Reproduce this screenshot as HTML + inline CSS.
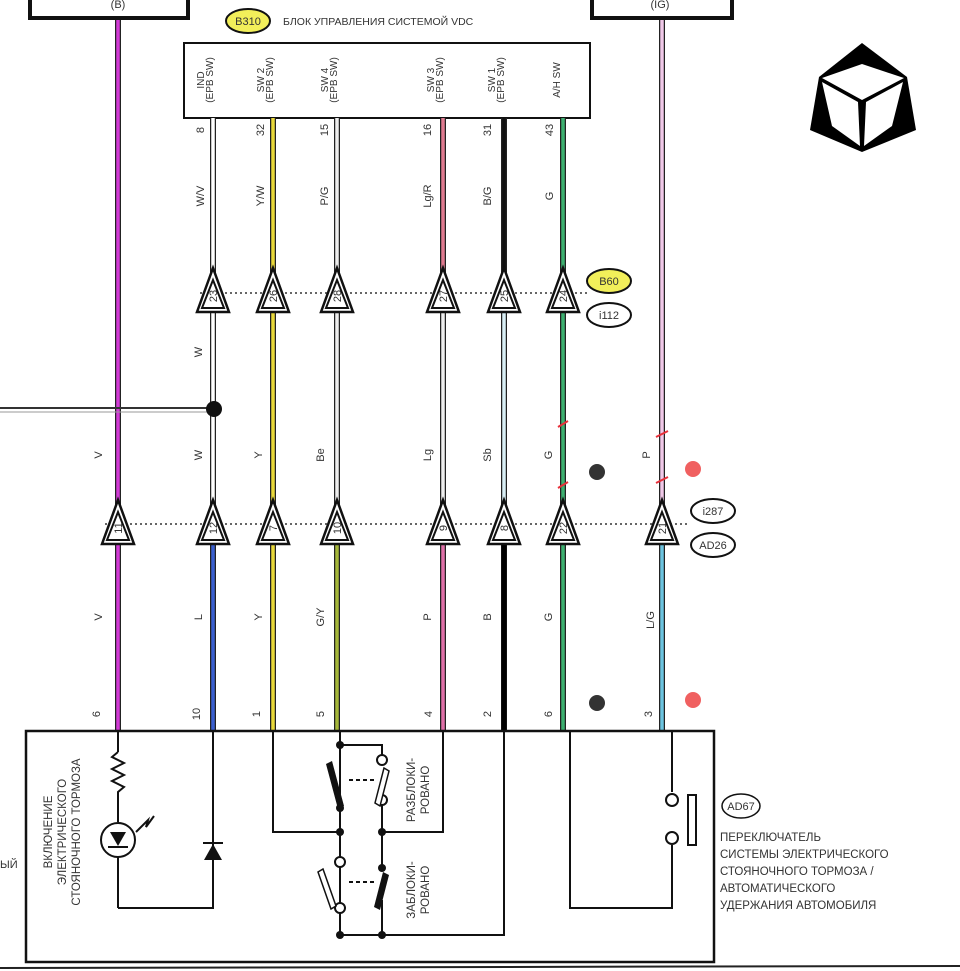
<!DOCTYPE html>
<html><head><meta charset="utf-8"><style>
html,body{margin:0;padding:0;background:#fff}
svg{display:block}
text{font-family:"Liberation Sans",sans-serif;fill:#333}
</style></head><body>
<svg width="960" height="971" viewBox="0 0 960 971" xmlns="http://www.w3.org/2000/svg">
<defs>
<g id="tri">
<polygon points="0,-26 -16,18 16,18" fill="#fff" stroke="#111" stroke-width="2.5"/>
<polygon points="0,-14 -11,14 11,14" fill="#fff" stroke="#111" stroke-width="2"/>
</g>
</defs>
<!-- top boxes -->
<rect x="30" y="-4" width="158" height="22" fill="none" stroke="#111" stroke-width="4"/>
<text x="118" y="8" font-size="11" text-anchor="middle">(B)</text>
<rect x="592" y="-4" width="140" height="22" fill="none" stroke="#111" stroke-width="4"/>
<text x="660" y="8" font-size="11" text-anchor="middle">(IG)</text>
<ellipse cx="248" cy="21" rx="22" ry="12" fill="#f2ef5a" stroke="#111" stroke-width="2"/>
<text x="248" y="25" font-size="11" text-anchor="middle">B310</text>
<text x="283" y="25" font-size="10.5">БЛОК УПРАВЛЕНИЯ СИСТЕМОЙ VDC</text>
<rect x="184" y="43" width="406" height="75" fill="#fff" stroke="#111" stroke-width="2"/>

<!-- wires -->
<g stroke-linecap="butt">
<!-- outlines -->
<g stroke="#222" stroke-width="6">
<line x1="118" y1="20" x2="118" y2="730"/>
<line x1="213" y1="118" x2="213" y2="730"/>
<line x1="273" y1="118" x2="273" y2="730"/>
<line x1="337" y1="118" x2="337" y2="730"/>
<line x1="443" y1="118" x2="443" y2="730"/>
<line x1="504" y1="118" x2="504" y2="730"/>
<line x1="563" y1="118" x2="563" y2="730"/>
<line x1="662" y1="20" x2="662" y2="730"/>
</g>
<g stroke-width="3.5">
<line x1="118" y1="20" x2="118" y2="730" stroke="#d23ad6"/>
<line x1="213" y1="118" x2="213" y2="525" stroke="#fff"/>
<line x1="213" y1="525" x2="213" y2="730" stroke="#3a5fd0"/>
<line x1="273" y1="118" x2="273" y2="730" stroke="#e8d83a"/>
<line x1="337" y1="118" x2="337" y2="525" stroke="#eee"/>
<line x1="337" y1="525" x2="337" y2="730" stroke="#a6b83a"/>
<line x1="443" y1="118" x2="443" y2="293" stroke="#e07a90"/>
<line x1="443" y1="293" x2="443" y2="525" stroke="#eee"/>
<line x1="443" y1="525" x2="443" y2="730" stroke="#e070a8"/>
<line x1="504" y1="118" x2="504" y2="293" stroke="#111"/>
<line x1="504" y1="293" x2="504" y2="525" stroke="#d8eef5"/>
<line x1="504" y1="525" x2="504" y2="730" stroke="#000" stroke-width="5"/>
<line x1="563" y1="118" x2="563" y2="730" stroke="#3cb070"/>
<line x1="662" y1="20" x2="662" y2="525" stroke="#f0c8e8"/>
<line x1="662" y1="525" x2="662" y2="730" stroke="#6cc4e0"/>
</g>
</g>
<line x1="0" y1="408" x2="213" y2="408" stroke="#333" stroke-width="2"/>
<line x1="0" y1="412" x2="213" y2="412" stroke="#999" stroke-width="1"/>
<circle cx="214" cy="409" r="8" fill="#111"/>

<!-- rotated labels -->
<g font-size="10" text-anchor="middle">
<g transform="translate(204,80) rotate(-90)"><text>IND</text><text y="9">(EPB SW)</text></g>
<g transform="translate(264,80) rotate(-90)"><text>SW 2</text><text y="9">(EPB SW)</text></g>
<g transform="translate(328,80) rotate(-90)"><text>SW 4</text><text y="9">(EPB SW)</text></g>
<g transform="translate(434,80) rotate(-90)"><text>SW 3</text><text y="9">(EPB SW)</text></g>
<g transform="translate(495,80) rotate(-90)"><text>SW 1</text><text y="9">(EPB SW)</text></g>
<g transform="translate(560,80) rotate(-90)"><text>A/H SW</text></g>
</g>
<g font-size="11" text-anchor="middle">
<text transform="translate(204,130) rotate(-90)">8</text>
<text transform="translate(264,130) rotate(-90)">32</text>
<text transform="translate(328,130) rotate(-90)">15</text>
<text transform="translate(431,130) rotate(-90)">16</text>
<text transform="translate(491,130) rotate(-90)">31</text>
<text transform="translate(553,130) rotate(-90)">43</text>
<text transform="translate(204,196) rotate(-90)">W/V</text>
<text transform="translate(264,196) rotate(-90)">Y/W</text>
<text transform="translate(328,196) rotate(-90)">P/G</text>
<text transform="translate(431,196) rotate(-90)">Lg/R</text>
<text transform="translate(491,196) rotate(-90)">B/G</text>
<text transform="translate(553,196) rotate(-90)">G</text>
<text transform="translate(202,352) rotate(-90)">W</text>
<text transform="translate(102,455) rotate(-90)">V</text>
<text transform="translate(202,455) rotate(-90)">W</text>
<text transform="translate(262,455) rotate(-90)">Y</text>
<text transform="translate(324,455) rotate(-90)">Be</text>
<text transform="translate(431,455) rotate(-90)">Lg</text>
<text transform="translate(491,455) rotate(-90)">Sb</text>
<text transform="translate(552,455) rotate(-90)">G</text>
<text transform="translate(650,455) rotate(-90)">P</text>
<text transform="translate(102,617) rotate(-90)">V</text>
<text transform="translate(202,617) rotate(-90)">L</text>
<text transform="translate(262,617) rotate(-90)">Y</text>
<text transform="translate(324,617) rotate(-90)">G/Y</text>
<text transform="translate(431,617) rotate(-90)">P</text>
<text transform="translate(491,617) rotate(-90)">B</text>
<text transform="translate(552,617) rotate(-90)">G</text>
<text transform="translate(654,620) rotate(-90)">L/G</text>
<text transform="translate(100,714) rotate(-90)">6</text>
<text transform="translate(200,714) rotate(-90)">10</text>
<text transform="translate(260,714) rotate(-90)">1</text>
<text transform="translate(324,714) rotate(-90)">5</text>
<text transform="translate(432,714) rotate(-90)">4</text>
<text transform="translate(491,714) rotate(-90)">2</text>
<text transform="translate(552,714) rotate(-90)">6</text>
<text transform="translate(652,714) rotate(-90)">3</text>
</g>

<!-- connector row 1 -->
<line x1="200" y1="293" x2="590" y2="293" stroke="#333" stroke-width="1.5" stroke-dasharray="2,3"/>
<g font-size="11" text-anchor="middle">
<use href="#tri" x="213" y="294"/><text transform="translate(217,296) rotate(-90)">23</text>
<use href="#tri" x="273" y="294"/><text transform="translate(277,296) rotate(-90)">26</text>
<use href="#tri" x="337" y="294"/><text transform="translate(341,296) rotate(-90)">28</text>
<use href="#tri" x="443" y="294"/><text transform="translate(447,296) rotate(-90)">27</text>
<use href="#tri" x="504" y="294"/><text transform="translate(508,296) rotate(-90)">25</text>
<use href="#tri" x="563" y="294"/><text transform="translate(567,296) rotate(-90)">24</text>
</g>
<ellipse cx="609" cy="281" rx="22" ry="12" fill="#f2ef5a" stroke="#111" stroke-width="2"/>
<text x="609" y="285" font-size="11" text-anchor="middle">B60</text>
<ellipse cx="609" cy="315" rx="22" ry="12" fill="#fff" stroke="#111" stroke-width="2"/>
<text x="609" y="319" font-size="11" text-anchor="middle">i112</text>

<!-- connector row 2 -->
<line x1="105" y1="524" x2="690" y2="524" stroke="#333" stroke-width="1.5" stroke-dasharray="2,3"/>
<g font-size="11" text-anchor="middle">
<use href="#tri" x="118" y="526"/><text transform="translate(122,528) rotate(-90)">11</text>
<use href="#tri" x="213" y="526"/><text transform="translate(217,528) rotate(-90)">12</text>
<use href="#tri" x="273" y="526"/><text transform="translate(277,528) rotate(-90)">7</text>
<use href="#tri" x="337" y="526"/><text transform="translate(341,528) rotate(-90)">10</text>
<use href="#tri" x="443" y="526"/><text transform="translate(447,528) rotate(-90)">9</text>
<use href="#tri" x="504" y="526"/><text transform="translate(508,528) rotate(-90)">8</text>
<use href="#tri" x="563" y="526"/><text transform="translate(567,528) rotate(-90)">22</text>
<use href="#tri" x="662" y="526"/><text transform="translate(666,528) rotate(-90)">21</text>
</g>
<ellipse cx="713" cy="511" rx="22" ry="12" fill="#fff" stroke="#111" stroke-width="2"/>
<text x="713" y="515" font-size="11" text-anchor="middle">i287</text>
<ellipse cx="713" cy="545" rx="22" ry="12" fill="#fff" stroke="#111" stroke-width="2"/>
<text x="713" y="549" font-size="11" text-anchor="middle">AD26</text>

<!-- red ticks and dots -->
<g stroke="#e8303a" stroke-width="2">
<line x1="558" y1="427" x2="568" y2="421"/><line x1="558" y1="488" x2="568" y2="482"/>
<line x1="656" y1="437" x2="668" y2="431"/><line x1="656" y1="483" x2="668" y2="477"/>
</g>
<circle cx="597" cy="472" r="8" fill="#333"/>
<circle cx="693" cy="469" r="8" fill="#f06060"/>
<circle cx="597" cy="703" r="8" fill="#333"/>
<circle cx="693" cy="700" r="8" fill="#f06060"/>

<!-- bottom box -->
<rect x="26" y="731" width="688" height="231" fill="#fff" stroke="#111" stroke-width="2.5"/>
<line x1="0" y1="968" x2="960" y2="966" stroke="#222" stroke-width="2"/>
<g stroke="#111" stroke-width="2" fill="none">
<!-- pin 6 lamp -->
<line x1="118" y1="731" x2="118" y2="752"/>
<polyline points="118,752 112,757 124,763 112,769 124,775 112,781 124,787 118,792 118,822"/>
<circle cx="118" cy="840" r="17"/>
<line x1="118" y1="857" x2="118" y2="908"/>
<polyline points="118,908 213,908 213,731"/>
<!-- pin 1 / switch -->
<polyline points="273,731 273,832 340,832"/>
<line x1="340" y1="731" x2="340" y2="935"/>
<polyline points="340,745 382,745 382,755"/>
<polyline points="443,731 443,832 382,832"/>
<line x1="382" y1="805" x2="382" y2="865"/>
<line x1="382" y1="900" x2="382" y2="935"/>
<polyline points="340,935 504,935 504,731"/>
<line x1="349" y1="780" x2="374" y2="780" stroke-dasharray="4,3"/>
<line x1="349" y1="882" x2="374" y2="882" stroke-dasharray="4,3"/>
<!-- pin 6 right -->
<polyline points="570,731 570,908 672,908 672,845"/>
<line x1="672" y1="731" x2="672" y2="792"/>
<circle cx="672" cy="800" r="6" fill="#fff"/>
<circle cx="672" cy="838" r="6" fill="#fff"/>
<rect x="688" y="795" width="8" height="50"/>
</g>
<!-- LED internals -->
<polygon points="110,832 126,832 118,846" fill="#111"/>
<line x1="108" y1="847" x2="128" y2="847" stroke="#111" stroke-width="2"/>
<polyline points="136,832 148,820 146,827 154,816" fill="none" stroke="#111" stroke-width="2"/>
<!-- diode -->
<polygon points="204,860 222,860 213,844" fill="#111"/>
<line x1="203" y1="843" x2="223" y2="843" stroke="#111" stroke-width="2"/>
<!-- switch contacts -->
<g fill="#111">
<circle cx="340" cy="745" r="4"/><circle cx="340" cy="832" r="4"/><circle cx="382" cy="832" r="4"/><circle cx="340" cy="935" r="4"/><circle cx="382" cy="935" r="4"/>
<circle cx="340" cy="808" r="4"/><circle cx="382" cy="868" r="4"/>
</g>
<g fill="#fff" stroke="#111" stroke-width="2">
<circle cx="382" cy="760" r="5"/><circle cx="382" cy="800" r="5"/>
<circle cx="340" cy="862" r="5"/><circle cx="340" cy="908" r="5"/>
</g>
<polygon points="326,764 332,761 344,806 338,809" fill="#111"/>
<polygon points="384,768 389,771 380,806 375,803" fill="#fff" stroke="#111" stroke-width="1.5"/>
<polygon points="318,872 323,869 336,906 331,909" fill="#fff" stroke="#111" stroke-width="1.5"/>
<polygon points="383,872 389,875 380,910 374,907" fill="#111"/>

<!-- box texts -->
<g font-size="11.5" text-anchor="middle" fill="#222">
<text transform="translate(52,832) rotate(-90)">ВКЛЮЧЕНИЕ</text>
<text transform="translate(66,832) rotate(-90)">ЭЛЕКТРИЧЕСКОГО</text>
<text transform="translate(80,832) rotate(-90)">СТОЯНОЧНОГО ТОРМОЗА</text>
<text transform="translate(415,790) rotate(-90)">РАЗБЛОКИ-</text>
<text transform="translate(429,790) rotate(-90)">РОВАНО</text>
<text transform="translate(415,890) rotate(-90)">ЗАБЛОКИ-</text>
<text transform="translate(429,890) rotate(-90)">РОВАНО</text>
</g>
<text x="0" y="868" font-size="11">ЫЙ</text>
<ellipse cx="741" cy="806" rx="19" ry="12" fill="#fff" stroke="#111" stroke-width="1.5"/>
<text x="741" y="810" font-size="11" text-anchor="middle">AD67</text>
<g font-size="11.5" fill="#222">
<text x="720" y="841">ПЕРЕКЛЮЧАТЕЛЬ</text>
<text x="720" y="858">СИСТЕМЫ ЭЛЕКТРИЧЕСКОГО</text>
<text x="720" y="875">СТОЯНОЧНОГО ТОРМОЗА /</text>
<text x="720" y="892">АВТОМАТИЧЕСКОГО</text>
<text x="720" y="909">УДЕРЖАНИЯ АВТОМОБИЛЯ</text>
</g>

<!-- logo -->
<polygon points="862,43 907,77 916,130 862,152 810,130 819,77" fill="#000"/>
<polygon points="822,78 862,64 904,78 862,100" fill="#fff"/>
<polygon points="822,82 858,102 860,146 832,126" fill="#fff"/>
<polygon points="903,82 866,102 864,146 892,126" fill="#fff"/>
</svg>
</body></html>
